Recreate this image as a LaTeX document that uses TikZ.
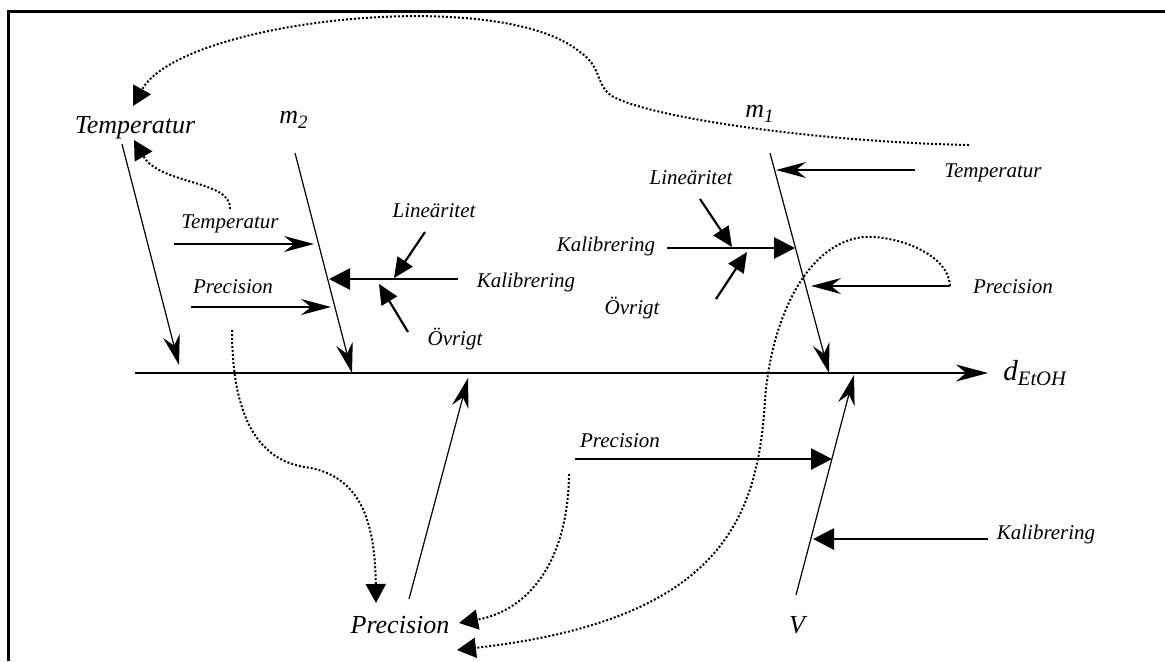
\documentclass[tikz,border=0pt]{standalone}
\usepackage{fontspec}
\setmainfont{Liberation Serif}
\usetikzlibrary{arrows.meta}
\begin{document}
\begin{tikzpicture}[x=0.5pt,y=-0.5pt,
  small/.style={font=\fontsize{10.5}{12}\selectfont\itshape, inner sep=0pt, anchor=base},
  large/.style={font=\fontsize{13}{15}\selectfont\itshape, inner sep=0pt, anchor=base},
  bone/.style={line width=0.6pt, -{Stealth[length=15pt,width=8.5pt,inset=5pt]}},
  axisline/.style={line width=0.8pt, -{Stealth[length=16pt,width=8.5pt,inset=5pt]}},
  thinarrow/.style={line width=0.7pt, -{Stealth[length=15pt,width=8pt,inset=5pt]}},
  thickarrow/.style={line width=1.4pt, -{Triangle[length=10.5pt,width=10.5pt]}},
  subarrow/.style={line width=1.1pt, -{Triangle[length=10pt,width=9pt]}},
  influence/.style={line width=1pt, dash pattern=on 1pt off 1pt, -{Triangle[length=9.5pt,width=10pt]}},
]
\useasboundingbox (0,0) rectangle (1165,661);

% frame
\draw[line width=1.5pt, line join=miter] (8,661) -- (8,11) -- (1165,11);

% labels
\node[large] (tempBig) at (135,133) {Temperatur};
\node[large, anchor=base west] (mTwo) at (279,123) {m\raisebox{-2.5pt}{\fontsize{9.5}{10}\selectfont 2}};
\node[large, anchor=base west] (mOne) at (745,117) {m\raisebox{-2.5pt}{\fontsize{9.5}{10}\selectfont 1}};
\node[small] (tempL) at (230,228) {Temperatur};
\node[small] (precL) at (233,293) {Precision};
\node[small] (kalL) at (526,287) {Kalibrering};
\node[small] (linL) at (434,217) {Lineäritet};
\node[small] (ovrL) at (455,345) {Övrigt};
\node[small] (tempR) at (993,177) {Temperatur};
\node[small] (linR) at (691,184) {Lineäritet};
\node[small] (kalR) at (606,251) {Kalibrering};
\node[small] (ovrR) at (632,314) {Övrigt};
\node[small] (precR) at (1013,293) {Precision};
\node[small] (precLow) at (620,447) {Precision};
\node[small] (kalLow) at (1046,539) {Kalibrering};
\node[large] (vol) at (797,633) {V};
\node[large] (precBig) at (400,633) {Precision};
\node[anchor=base west, inner sep=0pt, font=\fontsize{14.5}{16}\selectfont\itshape] (dens) at (1003,380)
  {d\raisebox{-2.5pt}{\fontsize{10.3}{11}\selectfont EtOH}};

% end points of the lines
\coordinate (axA) at (135,373);  \coordinate (axB) at (988,373);
\coordinate (tbA) at (122,144);  \coordinate (tbB) at (179,365);
\coordinate (m2A) at (295,153);  \coordinate (m2B) at (352,373);
\coordinate (m1A) at (770,153);  \coordinate (m1B) at (829,373);
\coordinate (vA) at (796,595);   \coordinate (vB) at (854,375);
\coordinate (pbA) at (409,599);  \coordinate (pbB) at (468,378);

\coordinate (tlA) at (174,244);  \coordinate (tlB) at (314,244);
\coordinate (plA) at (191,307);  \coordinate (plB) at (331,307);
\coordinate (klA) at (458,279);  \coordinate (klB) at (329,279);
\coordinate (llA) at (425,232);  \coordinate (llB) at (394,278);
\coordinate (olA) at (408,332);  \coordinate (olB) at (379,284);

\coordinate (trA) at (915,170);  \coordinate (trB) at (776,170);
\coordinate (krA) at (667,248);  \coordinate (krB) at (795,248);
\coordinate (lrA) at (700,199);  \coordinate (lrB) at (732,247);
\coordinate (orA) at (716,299);  \coordinate (orB) at (747,252);
\coordinate (prA) at (950,286);  \coordinate (prB) at (811,286);
\coordinate (pwA) at (575,459);  \coordinate (pwB) at (832,459);
\coordinate (kwA) at (988,539);  \coordinate (kwB) at (813,539);

% main axis and bones
\draw[axisline] (axA) -- (axB);
\draw[bone] (tbA) -- (tbB);
\draw[bone] (m2A) -- (m2B);
\draw[bone] (m1A) -- (m1B);
\draw[bone] (vA) -- (vB);
\draw[bone] (pbA) -- (pbB);

% causes on m2
\draw[thinarrow] (tlA) -- (tlB);
\draw[thinarrow] (plA) -- (plB);
\draw[thickarrow] (klA) -- (klB);
\draw[subarrow] (llA) -- (llB);
\draw[subarrow] (olA) -- (olB);

% causes on m1
\draw[thinarrow] (trA) -- (trB);
\draw[thickarrow] (krA) -- (krB);
\draw[subarrow] (lrA) -- (lrB);
\draw[subarrow] (orA) -- (orB);
\draw[thinarrow] (prA) -- (prB);

% causes on V
\draw[thickarrow] (pwA) -- (pwB);
\draw[thickarrow] (kwA) -- (kwB);

% dotted links between common causes
\coordinate (topStart) at (969,145);
\coordinate (tempTipA) at (133,106);
\draw[influence] (topStart) .. controls (820,142) and (650,118) .. (612,96)
  .. controls (595,85) and (603,68) .. (580,52)
  .. controls (500,-15) and (180,20) .. (tempTipA);

\coordinate (tsA) at (230,209);
\coordinate (tempTipB) at (134,140);
\draw[influence] (tsA) .. controls (232,180) and (160,185) .. (tempTipB);

\coordinate (psA) at (232,330);
\coordinate (precTipA) at (376,603);
\draw[influence] (psA) .. controls (232,420) and (260,460) .. (305,467)
  .. controls (360,475) and (375,520) .. (precTipA);

\coordinate (psB) at (569,474);
\coordinate (precTipB) at (459,623);
\draw[influence] (psB) .. controls (568,560) and (530,610) .. (precTipB);

\coordinate (precTipC) at (457,650);
\draw[influence] (prA) .. controls (948,248) and (880,232) .. (857,238)
  .. controls (800,250) and (770,330) .. (765,400)
  .. controls (758,520) and (720,620) .. (precTipC);

\end{tikzpicture}
\end{document}
